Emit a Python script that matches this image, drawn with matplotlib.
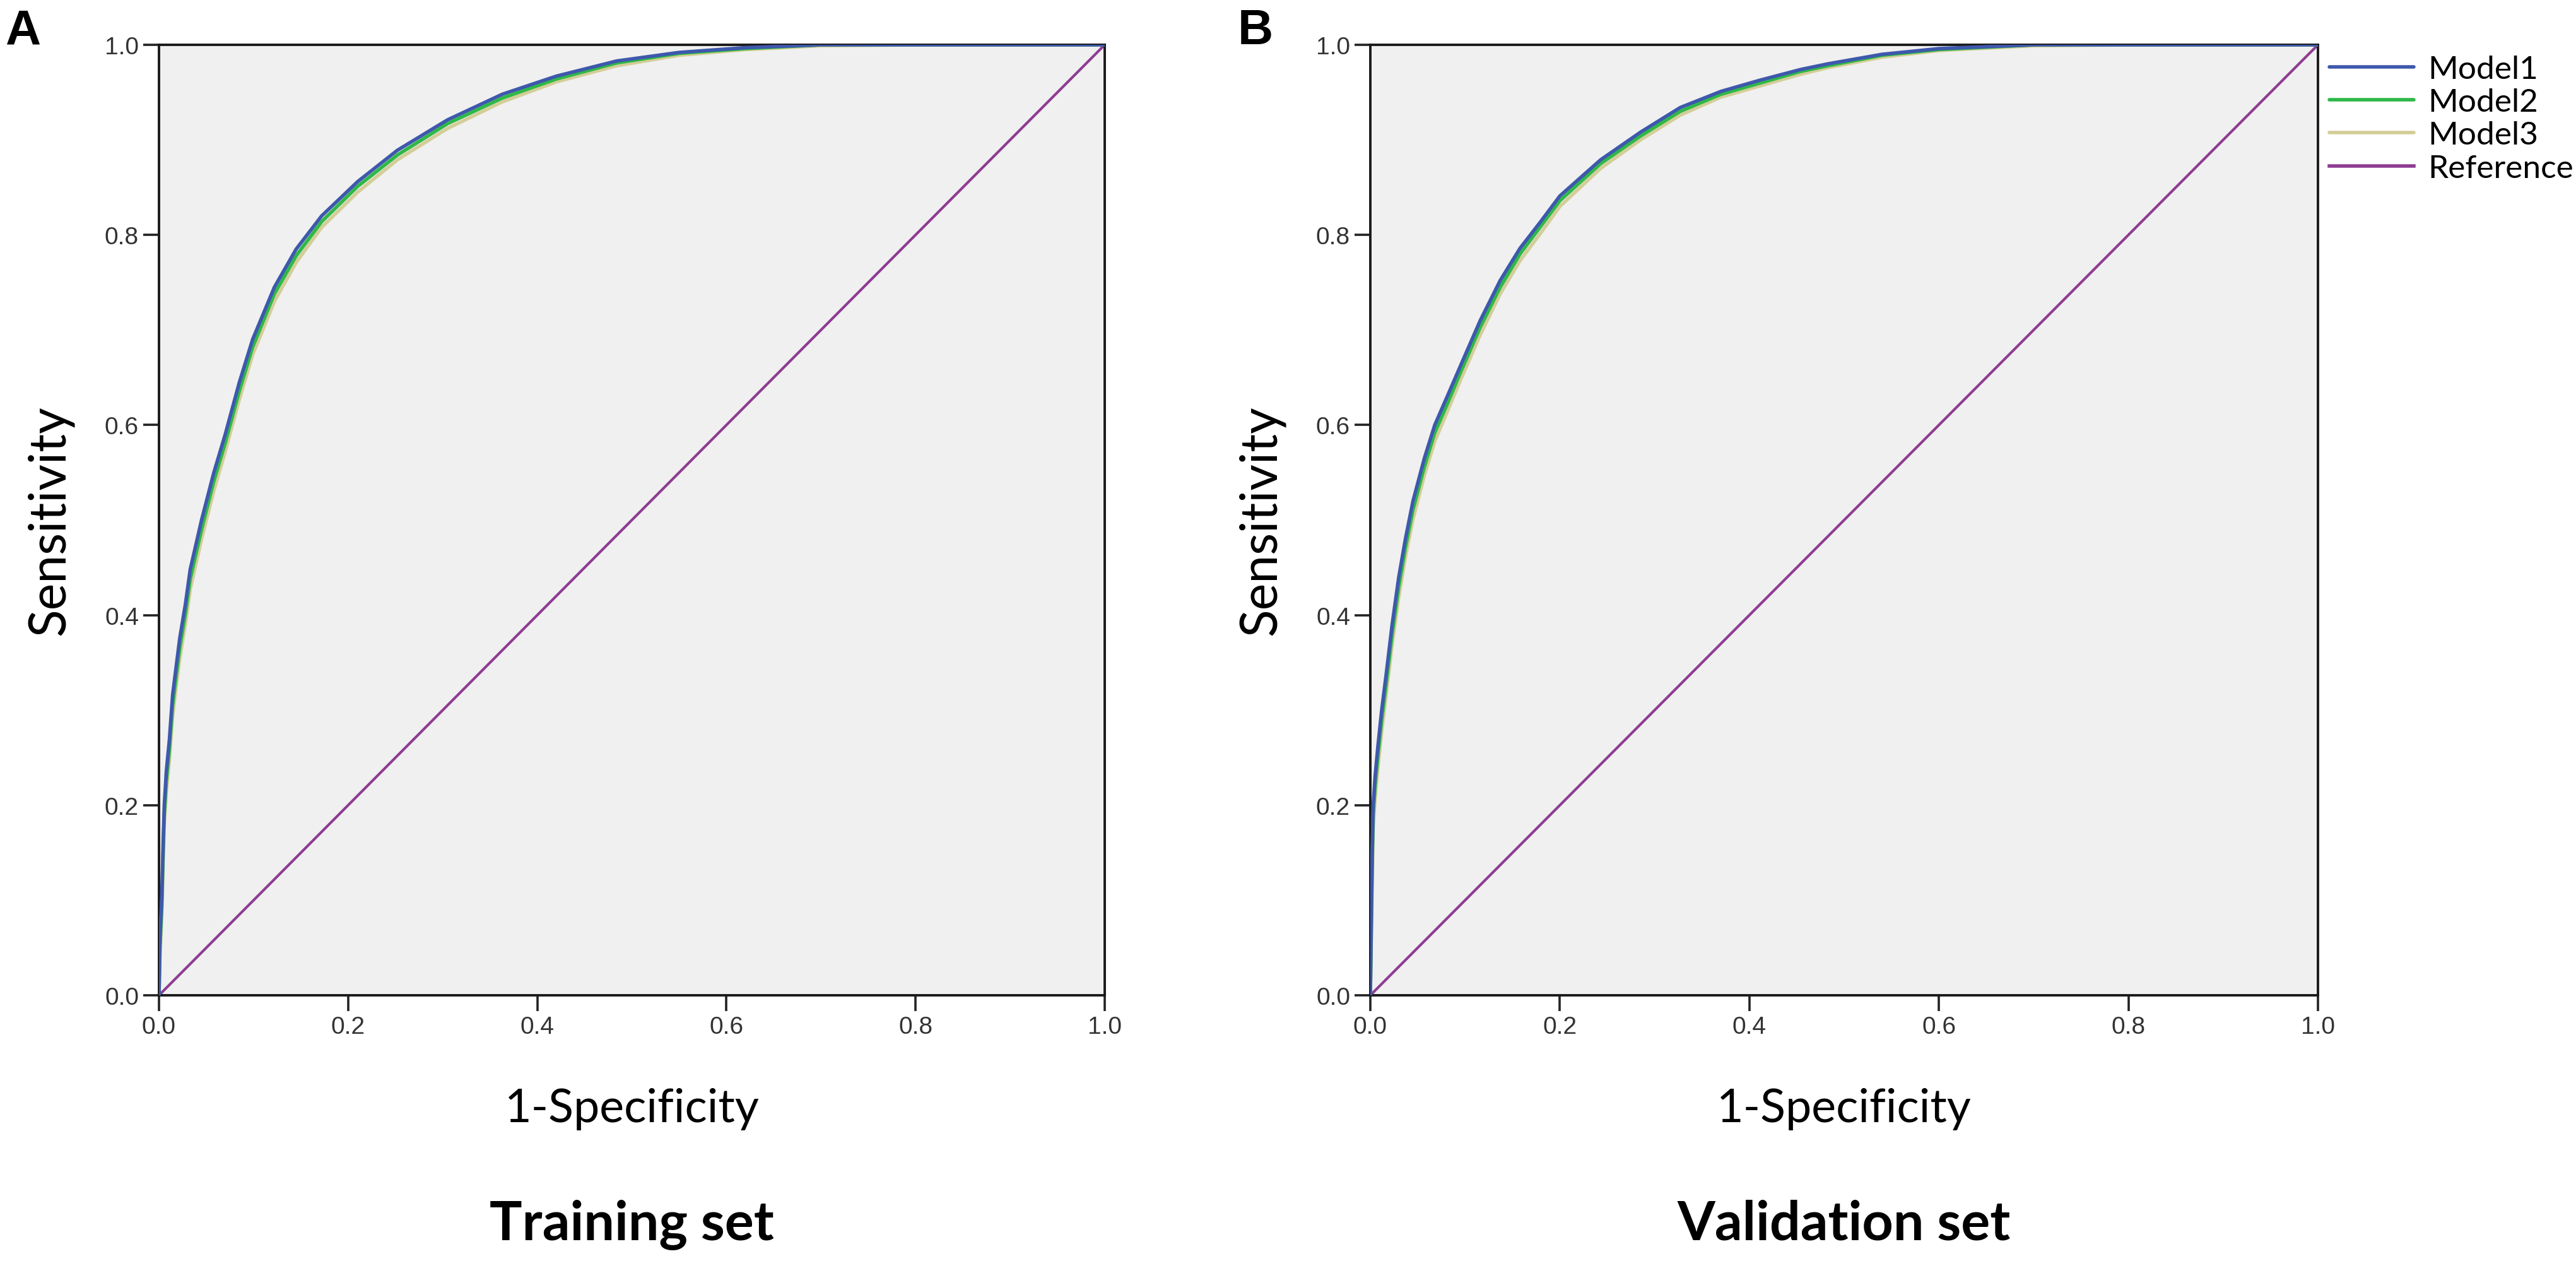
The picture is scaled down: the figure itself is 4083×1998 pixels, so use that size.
import numpy as np
import matplotlib
matplotlib.use("Agg")
import matplotlib.pyplot as plt
from matplotlib import font_manager

# ROC points (1-specificity, sensitivity)
train_fpr = [0.0, 0.001, 0.003, 0.0044, 0.0056, 0.0078, 0.011, 0.0144, 0.0178, 0.022,
             0.028, 0.033, 0.045, 0.058, 0.070, 0.085, 0.099, 0.122, 0.145, 0.172,
             0.210, 0.252, 0.305, 0.363, 0.420, 0.484, 0.550, 0.620, 0.700, 0.800, 1.0]
train_m1 = [0.0, 0.06, 0.104, 0.161, 0.200, 0.236, 0.269, 0.316, 0.343, 0.376,
            0.412, 0.448, 0.500, 0.550, 0.590, 0.645, 0.690, 0.745, 0.785, 0.820,
            0.856, 0.889, 0.921, 0.948, 0.967, 0.983, 0.992, 0.997, 1.0, 1.0, 1.0]
train_m2 = [0.0, 0.05, 0.095, 0.150, 0.190, 0.226, 0.259, 0.305, 0.333, 0.366,
            0.402, 0.438, 0.490, 0.541, 0.581, 0.636, 0.682, 0.738, 0.778, 0.814,
            0.851, 0.884, 0.917, 0.944, 0.964, 0.981, 0.991, 0.996, 1.0, 1.0, 1.0]
train_m3 = [0.0, 0.04, 0.085, 0.140, 0.180, 0.215, 0.248, 0.294, 0.322, 0.355,
            0.391, 0.427, 0.480, 0.531, 0.572, 0.627, 0.674, 0.730, 0.771, 0.808,
            0.845, 0.879, 0.912, 0.940, 0.961, 0.978, 0.989, 0.995, 0.999, 1.0, 1.0]

valid_fpr = [0.0, 0.001, 0.002, 0.003, 0.005, 0.008, 0.012, 0.017, 0.023, 0.030,
             0.037, 0.045, 0.057, 0.068, 0.082, 0.095, 0.116, 0.137, 0.158, 0.179,
             0.200, 0.243, 0.285, 0.327, 0.370, 0.412, 0.454, 0.483, 0.540, 0.600,
             0.700, 0.800, 1.0]
valid_m1 = [0.0, 0.08, 0.150, 0.200, 0.230, 0.262, 0.300, 0.340, 0.390, 0.440,
            0.480, 0.520, 0.565, 0.600, 0.632, 0.662, 0.710, 0.752, 0.786, 0.813,
            0.841, 0.879, 0.908, 0.934, 0.951, 0.963, 0.974, 0.980, 0.990, 0.996,
            1.0, 1.0, 1.0]
valid_m2 = [0.0, 0.07, 0.140, 0.190, 0.220, 0.252, 0.290, 0.330, 0.380, 0.430,
            0.471, 0.511, 0.556, 0.592, 0.624, 0.655, 0.703, 0.745, 0.780, 0.808,
            0.836, 0.875, 0.904, 0.930, 0.948, 0.960, 0.972, 0.978, 0.989, 0.995,
            1.0, 1.0, 1.0]
valid_m3 = [0.0, 0.06, 0.120, 0.175, 0.207, 0.240, 0.278, 0.319, 0.369, 0.419,
            0.461, 0.501, 0.547, 0.583, 0.616, 0.647, 0.695, 0.738, 0.773, 0.801,
            0.830, 0.870, 0.900, 0.926, 0.945, 0.957, 0.969, 0.976, 0.987, 0.994,
            0.999, 1.0, 1.0]

ref_x = [0.0, 1.0]
ref_y = [0.0, 1.0]

series_names = ["Model1", "Model2", "Model3", "Reference"]
panel_letters = ["A", "B"]
panel_titles = ["Training set", "Validation set"]
tick_values = [0.0, 0.2, 0.4, 0.6, 0.8, 1.0]
tick_labels = ["0.0", "0.2", "0.4", "0.6", "0.8", "1.0"]

colors = ["#3E58AC", "#2EB848", "#D3CE97", "#8E3C92"]

installed = {f.name for f in font_manager.fontManager.ttflist}
label_font = "Lato" if "Lato" in installed else "DejaVu Sans"
tick_font = "Liberation Sans" if "Liberation Sans" in installed else "DejaVu Sans"

W, H = 4083, 1999
DPI = 100
fig = plt.figure(figsize=(W / DPI, H / DPI), dpi=DPI)

def px_box(left, top, right, bottom):
    return [left / W, 1 - bottom / H, (right - left) / W, (bottom - top) / H]

axA = fig.add_axes(px_box(252, 72, 1751, 1578))
axB = fig.add_axes(px_box(2172, 72, 3674, 1578))

panels = [
    (axA, train_fpr, [train_m1, train_m2, train_m3]),
    (axB, valid_fpr, [valid_m1, valid_m2, valid_m3]),
]

for i, (ax, fpr, models) in enumerate(panels):
    ax.set_facecolor("#F0F0F0")
    ax.plot(ref_x, ref_y, color=colors[3], lw=3.0, label=series_names[3], zorder=2)
    # draw lowest model first so Model1 sits on top
    for j in [2, 1, 0]:
        ax.plot(fpr, models[j], color=colors[j], lw=4.0, label=series_names[j],
                zorder=3 + (2 - j), solid_capstyle="round", solid_joinstyle="round")
    ax.set_xlim(0, 1)
    ax.set_ylim(0, 1)
    ax.set_xticks(tick_values)
    ax.set_xticklabels(tick_labels)
    ax.set_yticks(tick_values)
    ax.set_yticklabels(tick_labels)
    ax.tick_params(direction="out", length=18, width=2.6, color="#222222",
                   labelsize=28, pad=5, labelcolor="#333333")
    for lab in ax.get_xticklabels() + ax.get_yticklabels():
        lab.set_fontfamily(tick_font)
    for sp in ax.spines.values():
        sp.set_linewidth(2.8)
        sp.set_color("#1a1a1a")
    ax.set_ylabel("Sensitivity", fontsize=58, family=label_font, labelpad=36)
    ax.set_xlabel("1-Specificity", fontsize=53, family=label_font, labelpad=56)

for ax, title in zip([axA, axB], panel_titles):
    bb = ax.get_position()
    cx = bb.x0 + bb.width / 2
    fig.text(cx, 1 - 1965 / H, title, ha="center", va="baseline",
             fontsize=62, fontweight="bold", family=label_font)

fig.text(8 / W, 1 - 70 / H, panel_letters[0], ha="left", va="baseline",
         fontsize=56, fontweight="bold", family=tick_font)
fig.text(1962 / W, 1 - 70 / H, panel_letters[1], ha="left", va="baseline",
         fontsize=56, fontweight="bold", family=tick_font)

handles, labels = axB.get_legend_handles_labels()
order = [labels.index(n) for n in series_names]
leg = fig.legend([handles[k] for k in order], [labels[k] for k in order],
                 loc="upper left", bbox_to_anchor=(3692 / W, 1 - 88 / H),
                 frameon=False, handlelength=2.6, handletextpad=0.45,
                 labelspacing=0.12, borderpad=0, borderaxespad=0,
                 prop={"family": label_font, "size": 37})
for line in leg.get_lines():
    line.set_linewidth(4.0)

fig.savefig("out.png", dpi=DPI, facecolor="white")
